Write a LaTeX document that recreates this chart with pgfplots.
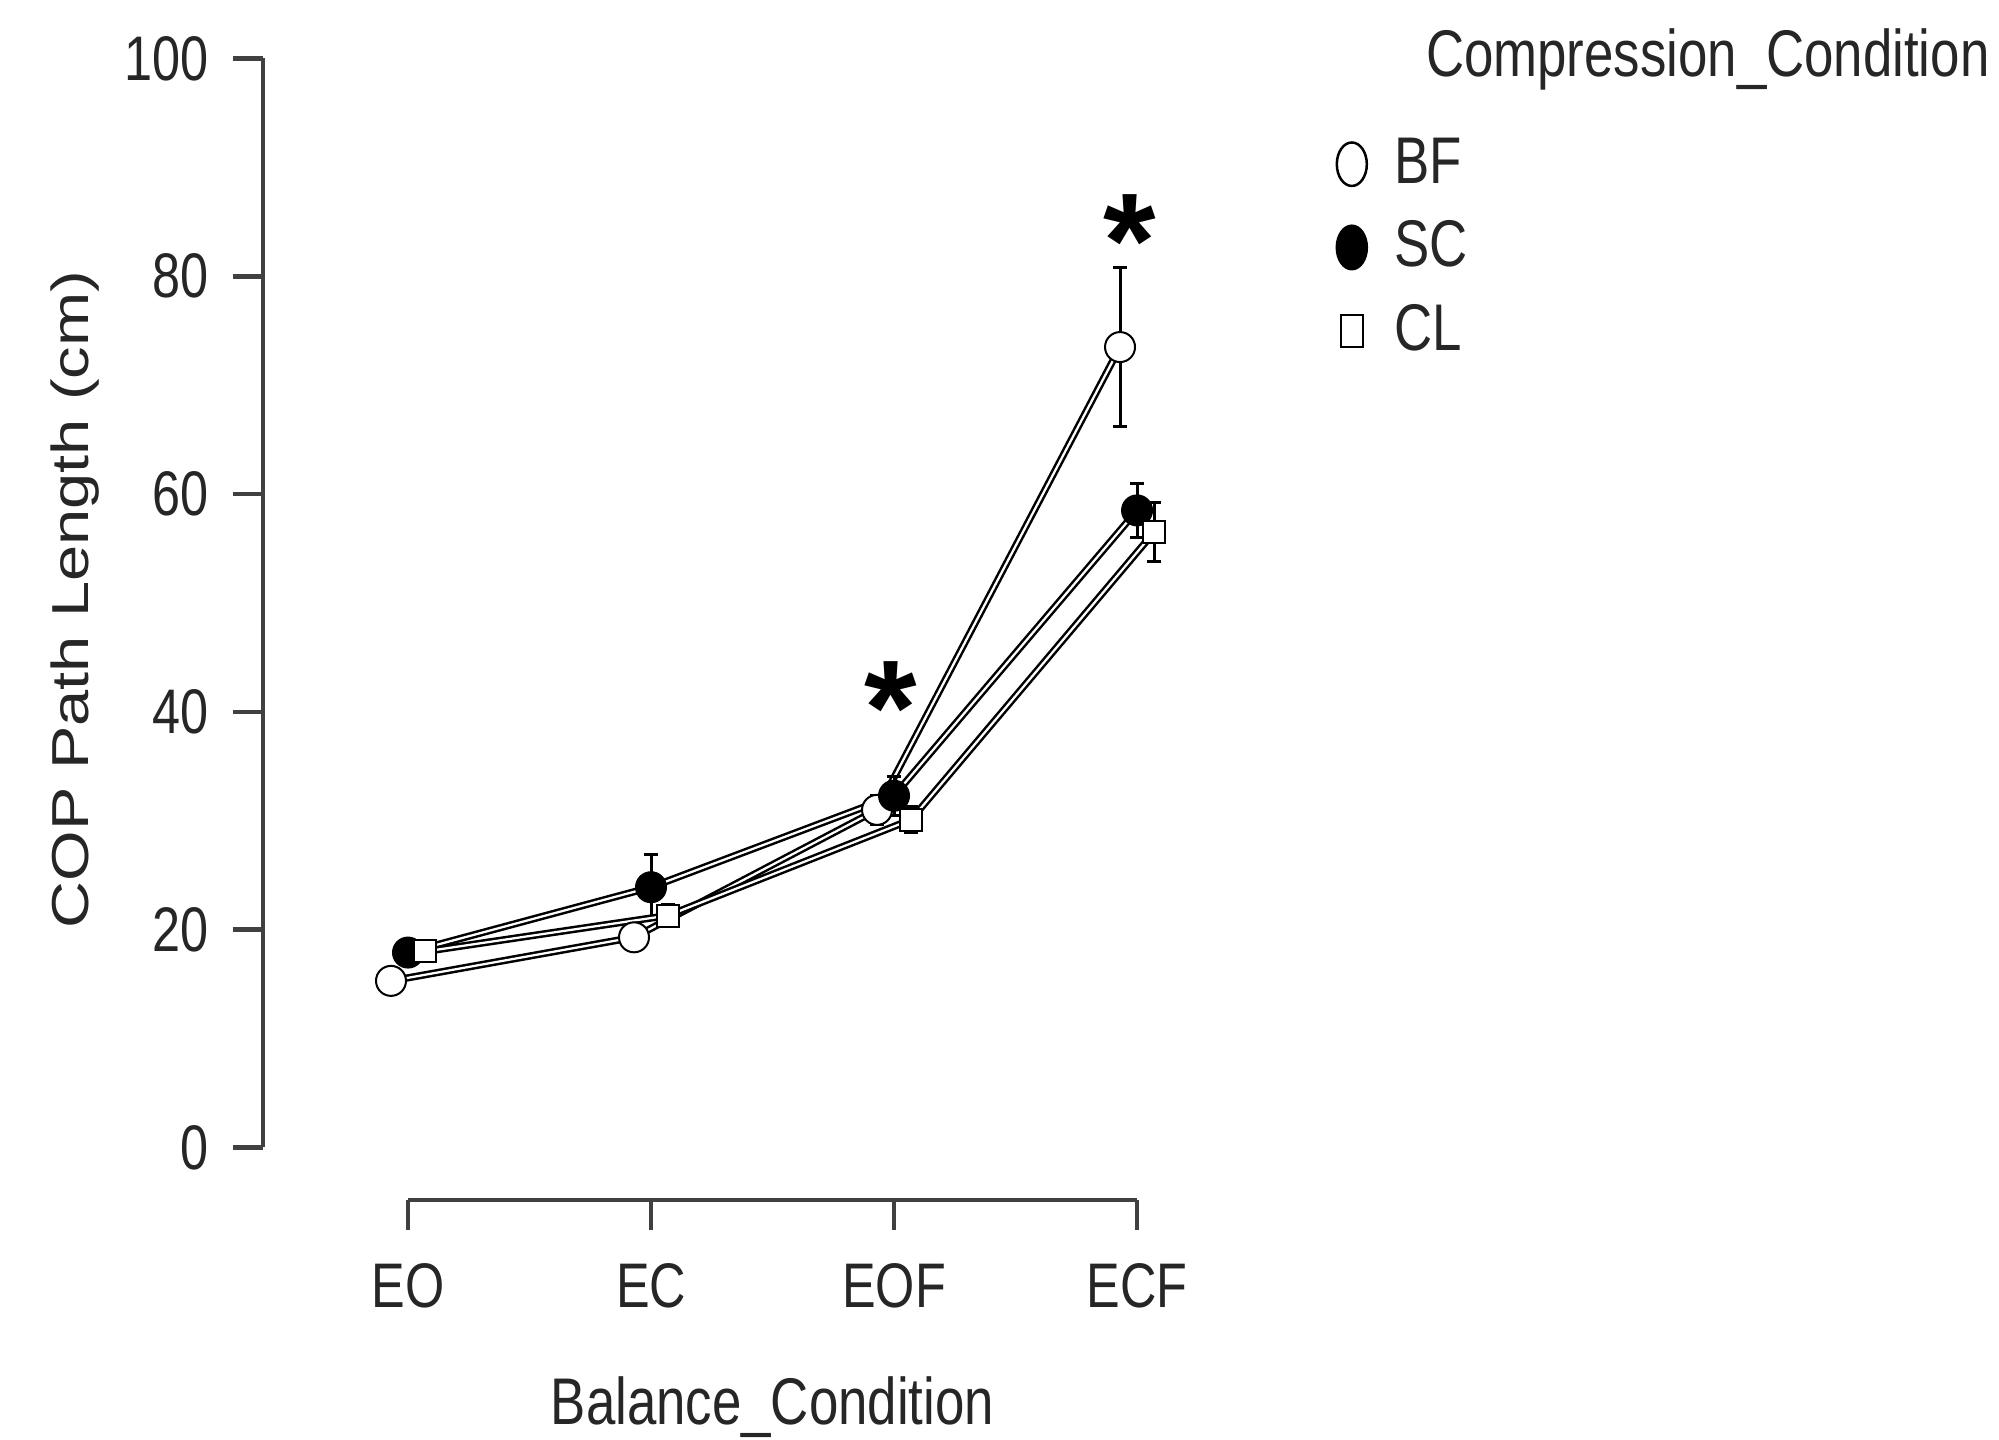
\documentclass[border=0pt]{standalone}
\usepackage{fontspec}
\setmainfont{Liberation Sans}[FakeStretch=0.8]
\newfontfamily\ylabfont{Liberation Sans}[FakeStretch=1.25]
\newfontfamily\astfont{Liberation Sans}
\usepackage{pgfplots}
\pgfplotsset{compat=1.18}

\pgfplotsset{
  conn/.style={black, line width=0.5pt, double=white, double distance=0.45pt, no marks, forget plot},
  pts/.style={only marks, forget plot, black, mark options={line width=0.5pt, yscale=1.45},
    error bars/y dir=both, error bars/y explicit,
    error bars/error bar style={line width=0.6pt, black},
    error bars/error mark options={rotate=90, mark size=1.4pt, line width=0.6pt}},
}

\begin{document}
\begin{tikzpicture}
\begin{axis}[
  scale only axis, width=189.4pt, height=228.3pt,
  xmin=-0.597, xmax=3.3, ymin=-4.82, ymax=100,
  axis x line=bottom, axis y line=left,
  axis line style={draw=none,-},
  tick align=outside, major tick length=6pt,
  tick style={black!75, line width=0.9pt},
  xtick={0,1,2,3}, xticklabels={EO,EC,EOF,ECF},
  ytick={0,20,...,100},
  /pgf/number format/assume math mode=true,
  ticklabel style={font=\fontsize{12.6}{13}\selectfont, text=black!85},
  yticklabel style={inner sep=0pt, xshift=-4.6pt},
  xticklabel style={inner sep=0pt, yshift=-6.4pt, text height=9pt},
  xlabel={Balance\_Condition},
  ylabel={COP Path Length (cm)},
  xlabel style={at={(rel axis cs:0.538,-0.197)}, anchor=base, inner sep=0pt,
    font=\fontsize{13.2}{14}\selectfont, text=black!85},
  ylabel style={at={(axis cs:-1.37,50.3)}, anchor=center, inner sep=0pt,
    font=\ylabfont\fontsize{10.4}{12}\selectfont, text=black!85},
  legend style={at={(axis cs:3.818,93.5)}, anchor=north west, draw=none, fill=none,
    inner sep=0pt, row sep=3pt, font=\fontsize{13.2}{14}\selectfont, text=black!85,
    cells={anchor=west}, nodes={inner sep=1.5pt}},
  legend image code/.code={\draw[mark repeat=2,mark phase=2,#1] plot coordinates {(0cm,0cm) (0.15cm,0cm) (0.3cm,0cm)};
    \path (0.39cm,0cm);},
  clip=false,
]
% BF
\addplot[conn] coordinates {(-0.07,15.3) (0.93,19.3) (1.93,31.0) (2.93,73.5)};
\addplot[pts, mark=*, mark size=3pt, mark options={fill=white}] coordinates {
  (-0.07,15.3) +- (0,1.0)
  (0.93,19.3) +- (0,1.0)
  (1.93,31.0) +- (0,1.3)
  (2.93,73.5) +- (0,7.3)
};
% SC
\addplot[conn] coordinates {(0,17.9) (1,23.9) (2,32.3) (3,58.5)};
\addplot[pts, mark=*, mark size=3pt, mark options={fill=black}] coordinates {
  (0,17.9) +- (0,0.9)
  (1,23.9) +- (0,3.0)
  (2,32.3) +- (0,1.8)
  (3,58.5) +- (0,2.5)
};
% CL
\addplot[conn] coordinates {(0.07,18.0) (1.07,21.3) (2.07,30.1) (3.07,56.5)};
\addplot[pts, mark=square*, mark size=2.2pt, mark options={fill=white}] coordinates {
  (0.07,18.0) +- (0,0.8)
  (1.07,21.3) +- (0,1.0)
  (2.07,30.1) +- (0,1.2)
  (3.07,56.5) +- (0,2.7)
};

\addlegendimage{only marks, black, mark=*, mark size=3pt, mark options={fill=white, line width=0.5pt, yscale=1.45}}
\addlegendentry{BF}
\addlegendimage{only marks, black, mark=*, mark size=3pt, mark options={fill=black, line width=0.5pt, yscale=1.45}}
\addlegendentry{SC}
\addlegendimage{only marks, black, mark=square*, mark size=2.2pt, mark options={fill=white, line width=0.5pt, yscale=1.45}}
\addlegendentry{CL}

% detached axis lines
\draw[black!75, line width=0.9pt] (axis cs:-0.597,0) -- (axis cs:-0.597,100);
\draw[black!75, line width=0.9pt] (axis cs:0,-4.82) -- (axis cs:3,-4.82);

% significance marks
\node[font=\astfont\bfseries\fontsize{27}{27}\selectfont, anchor=base, inner sep=0pt, yshift=-13pt] at (axis cs:1.988,42.1) {*};
\node[font=\astfont\bfseries\fontsize{27}{27}\selectfont, anchor=base, inner sep=0pt, yshift=-13pt] at (axis cs:2.971,84.9) {*};

\node[anchor=base west, inner sep=0pt, font=\fontsize{13.2}{14}\selectfont, text=black!85] at (axis cs:4.185,98.3) {Compression\_Condition};

\coordinate (bbll) at (axis cs:-1.679,-26.77);
\coordinate (bbur) at (axis cs:6.547,105.37);
\end{axis}
\pgfresetboundingbox
\path[use as bounding box] (bbll) rectangle (bbur);
\end{tikzpicture}
\end{document}
